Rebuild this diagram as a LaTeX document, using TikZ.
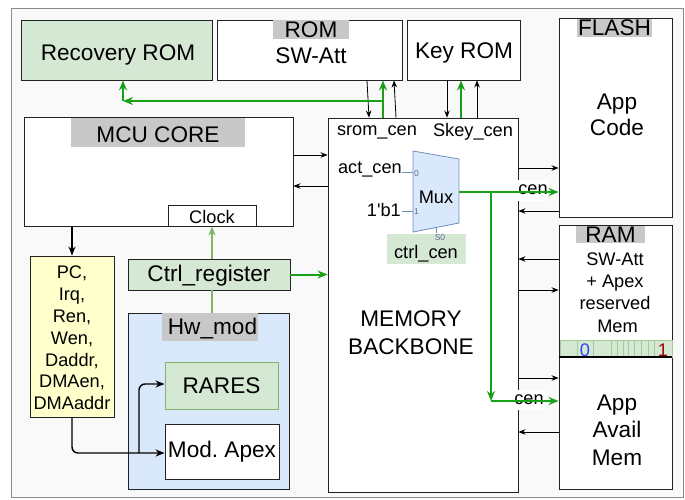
\documentclass[tikz,border=0pt]{standalone}
\usepackage{fontspec}
\setmainfont{Liberation Sans}
\usetikzlibrary{arrows.meta}
\definecolor{bc}{HTML}{222222}
\definecolor{ttlgray}{HTML}{C8C8C8}
\definecolor{lgreen}{HTML}{D5E8D4}
\definecolor{mgreen}{HTML}{82B366}
\definecolor{barline}{HTML}{A3CC98}
\definecolor{grn}{HTML}{18A018}
\definecolor{lblue}{HTML}{DAE8FC}
\definecolor{mblue}{HTML}{6C8EBF}
\definecolor{lyellow}{HTML}{FFFFCC}
\definecolor{bgfill}{HTML}{F9F9F9}
\definecolor{bgline}{HTML}{8A8A8A}
\definecolor{zeroblue}{HTML}{3344FF}
\definecolor{onered}{HTML}{A00000}
\definecolor{tinylbl}{HTML}{5A6E8C}
\tikzset{
  box/.style={draw=bc, line width=0.9pt, inner sep=0pt},
  ttl/.style={fill=ttlgray, inner sep=0pt},
  big/.style={font=\fontsize{22.6}{27}\selectfont},
  sml/.style={font=\fontsize{18.2}{22}\selectfont},
  tiny/.style={font=\fontsize{8.5}{10}\selectfont, text=tinylbl, inner sep=0pt},
  blk/.style={draw=black, line width=0.8pt, -{Stealth[length=7pt,width=5.5pt]}},
  blkmid/.style={draw=black, line width=1.4pt, -{Stealth[length=9pt,width=7pt]}},
  blkthick/.style={draw=black, line width=1.4pt, -{Stealth[length=9pt,width=7pt]}, rounded corners=6pt},
  grnarrow/.style={draw=grn, line width=2pt, -{Stealth[length=10pt,width=8pt]}},
  paleline/.style={draw=mgreen, line width=1.2pt},
  palearrow/.style={draw=mgreen, line width=1.2pt, -{Stealth[length=9pt,width=7pt]}},
  whitelbl/.style={fill=white, inner sep=1pt, font=\fontsize{18.2}{22}\selectfont},
}
\begin{document}
\frenchspacing
\begin{tikzpicture}[x=1pt,y=-1pt]
\useasboundingbox (0,0) rectangle (685,499);
% background frame
\draw[fill=bgfill, draw=bgline, line width=1pt] (11,8) rectangle (683,497);

% top row
\node[box, fill=lgreen, minimum width=191pt, minimum height=60pt] (recrom) at (116.5,50) {};
\node[big, inner sep=0pt] (recromtxt) at (118,55) {Recovery ROM};
\node[box, fill=white, minimum width=185pt, minimum height=60pt] (swrom) at (309.5,50) {};
\node[ttl, minimum width=76pt, minimum height=19pt] (swromttl) at (311,29.5) {};
\node[big, inner sep=0pt] (swromttltxt) at (311,30) {ROM};
\node[big, inner sep=0pt] (swromtxt) at (311,56) {SW-Att};
\node[box, fill=white, minimum width=113pt, minimum height=60pt] (keyrom) at (463.5,50) {};
\node[big, inner sep=0pt] (keyromtxt) at (464,53) {Key ROM};

% flash
\node[box, fill=white, minimum width=113pt, minimum height=199pt] (flash) at (615.5,117.5) {};
\node[ttl, minimum width=75pt, minimum height=18pt] (flashttl) at (614.5,28) {};
\node[big, inner sep=0pt] (flashttltxt) at (614.5,28) {FLASH};
\node[big, align=center, inner sep=0pt, font=\fontsize{22.6}{26}\selectfont] (flashtxt) at (617,115) {App\\Code};

% ram
\node[box, fill=white, minimum width=113pt, minimum height=264pt] (ram) at (615.5,357) {};
\node[ttl, minimum width=69pt, minimum height=17pt] (ramttl) at (610.5,234.5) {};
\node[big, inner sep=0pt] (ramttltxt) at (610.5,235) {RAM};
\node[align=center, inner sep=0pt, font=\fontsize{18.2}{22.3}\selectfont] (ramtxt) at (615,292.5) {SW-Att\\+ Apex\\reserved\\\ Mem};
\node[fill=lgreen, draw=barline, line width=0.8pt, minimum width=112pt, minimum height=17pt, inner sep=0pt] (rambar) at (616,348.5) {};
\foreach \xx in {577,593,611,617,623,628,634,641,648,654}{
  \draw[barline, line width=0.8pt] (\xx,340) -- (\xx,357);
}
\node[sml, text=zeroblue, inner sep=0pt] (zerolbl) at (585,350) {0};
\node[sml, text=onered, inner sep=0pt] (onelbl) at (663,350) {1};
\draw[black, line width=1.6pt] (ram.west |- 0,357) -- (ram.east |- 0,357);
\node[align=center, inner sep=0pt, font=\fontsize{22.6}{27.5}\selectfont] (availtxt) at (617,430) {App\\Avail\\Mem};

% MCU core
\node[box, fill=white, minimum width=269pt, minimum height=109pt] (mcu) at (158.5,171.5) {};
\node[ttl, minimum width=174pt, minimum height=29pt] (mcuttl) at (158,132.5) {};
\node[big, inner sep=0pt] (mcuttltxt) at (158,135) {MCU CORE};
\node[box, fill=white, minimum width=88pt, minimum height=21pt] (clock) at (212,215.5) {};
\node[sml, inner sep=0pt] (clocktxt) at (212,216.5) {Clock};

% memory backbone
\node[box, fill=white, minimum width=190pt, minimum height=374pt] (mb) at (423,305) {};
\node[sml, inner sep=0pt] (sromtxt) at (377,132) {srom\_cen};
\node[sml, inner sep=0pt] (skeytxt) at (473,132) {Skey\_cen};
\node[big, align=center, inner sep=0pt, font=\fontsize{22.6}{28}\selectfont] (mbtxt) at (411,333) {MEMORY\\BACKBONE};

% mux
\draw[fill=lblue, draw=mblue, line width=0.8pt] (413,151) -- (459,159) -- (459,223) -- (413,232) -- cycle;
\node[sml, inner sep=0pt] (muxtxt) at (436,197) {Mux};
\coordinate (muxout) at (459,192);
\coordinate (muxin0) at (413,172);
\coordinate (muxin1) at (413,211);
\coordinate (muxsel) at (436,227.5);
\node[sml, inner sep=0pt, anchor=east] (actcen) at (402,169) {act\_cen};
\node[sml, inner sep=0pt, anchor=east] (onebone) at (401,210) {1\textquotesingle b1};
\draw[mblue, line width=0.8pt] (actcen.east |- muxin0) -- (muxin0);
\draw[mblue, line width=0.8pt] (onebone.east |- muxin1) ++(1,0) -- (muxin1);
\node[tiny] (lbl0) at (416.5,174) {0};
\node[tiny] (lbl1) at (416.5,212) {1};
\node[fill=lgreen, minimum width=79pt, minimum height=30pt, inner sep=0pt] (ctrlcen) at (426.5,249) {};
\node[sml, inner sep=0pt] (ctrlcentxt) at (426,253.5) {ctrl\_cen};
\draw[mblue, line width=0.8pt] (muxsel) -- (436,233);
\node[tiny] (lbls0) at (440,237.5) {S0};

% signals box
\node[box, fill=lyellow, minimum width=84pt, minimum height=161pt] (sig) at (72,336.5) {};
\node[align=center, inner sep=0pt, font=\fontsize{18.2}{21.8}\selectfont] (sigtxt) at (72,338) {PC,\\Irq,\\Ren,\\Wen,\\Daddr,\\DMAen,\\DMAaddr};

% ctrl register and hw_mod
\node[box, fill=lgreen, minimum width=162pt, minimum height=31pt] (ctrlreg) at (209,274.5) {};
\node[big, inner sep=0pt] (ctrlregtxt) at (209,276) {Ctrl\_register};
\node[box, fill=lblue, minimum width=161pt, minimum height=176pt] (hwmod) at (208.5,401) {};
\node[ttl, minimum width=96pt, minimum height=28pt] (hwmodttl) at (210,327) {};
\node[big, inner sep=0pt] (hwmodttltxt) at (212.5,329) {Hw\_mod};
\node[fill=lgreen, draw=mgreen, line width=0.9pt, minimum width=113pt, minimum height=47pt, inner sep=0pt, big] (rares) at (221.5,385.5) {RARES};
\node[box, fill=white, minimum width=114pt, minimum height=55pt, big] (modapex) at (222,451.5) {Mod. Apex};

% connectors MCU <-> backbone
\draw[blk] (mcu.east |- 0,155) -- (mb.west |- 0,155);
\draw[blk] (mb.west |- 0,186) -- (mcu.east |- 0,186);
% backbone <-> flash
\draw[blk] (mb.east |- 0,168) -- (flash.west |- 0,168);
\draw[blk] (flash.west |- 0,211) -- (mb.east |- 0,211);
% backbone <-> ram
\draw[blk] (ram.west |- 0,259) -- (mb.east |- 0,259);
\draw[blk] (mb.east |- 0,290) -- (ram.west |- 0,290);
\draw[blk] (mb.east |- 0,378) -- (ram.west |- 0,378);
\draw[blk] (ram.west |- 0,432) -- (mb.east |- 0,432);
% ROM <-> backbone
\draw[blk] (swrom.south -| 367,0) -- (mb.north -| 369,0);
\draw[grnarrow] (mb.north -| 383,0) -- (swrom.south -| 383,0);
\draw[blk] (mb.north -| 396,0) -- (swrom.south -| 394,0);
\coordinate (gbranch) at (383,101);
\coordinate (gcorner) at (123,101);
\draw[grnarrow] (gbranch) -- (gcorner);
\draw[grnarrow] (gcorner) -- (recrom.south -| gcorner);
\draw[blk] (keyrom.south -| 447,0) -- (mb.north -| 447,0);
\draw[grnarrow] (mb.north -| 461,0) -- (keyrom.south -| 461,0);
\draw[blk] (mb.north -| 477,0) -- (keyrom.south -| 477,0);

% mux output
\node[whitelbl, minimum height=21pt] (cen1) at (533,190) {cen};
\draw[grnarrow] (muxout) -- (flash.west |- muxout);
\coordinate (gjunc) at (491,192);
\coordinate (gdown) at (491,401);
\draw[grnarrow] (gjunc) -- (gdown);
\node[whitelbl, minimum height=20pt] (cen2) at (529,400) {cen};
\draw[grnarrow] (gdown) -- (ram.west |- gdown);

% ctrl register links
\draw[palearrow] (ctrlreg.north -| clock.south) -- (clock.south);
\draw[paleline] (ctrlreg.south -| 212,0) -- (hwmod.north -| 212,0);
\draw[grnarrow] (ctrlreg.east) -- (mb.west |- ctrlreg.east);

% MCU to signals, signals to hw modules
\draw[blkmid] (mcu.south -| sig.north) -- (sig.north);
\coordinate (sigturn) at (72,453);
\coordinate (branchpt) at (139,453);
\draw[blkthick] (sig.south) -- (sigturn) -- (modapex.west |- sigturn);
\draw[blkthick] (branchpt) -- (139,384) -- (rares.west |- 0,384);
\end{tikzpicture}
\end{document}
